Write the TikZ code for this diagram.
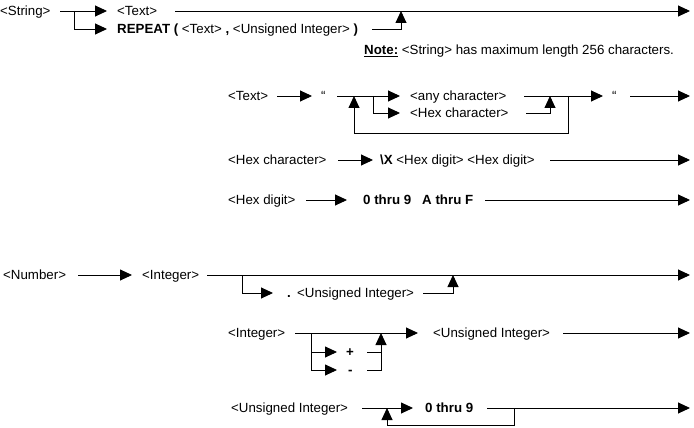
\documentclass[tikz,border=0pt]{standalone}
\usepackage{fontspec}
\setmainfont{Liberation Sans}
\usetikzlibrary{arrows.meta}
\newcommand{\synfont}{\fontsize{13.3}{15.5}\selectfont}
\tikzset{
  lbl/.style={font=\synfont, inner sep=0pt, anchor=base west},
  bld/.style={lbl, font=\synfont\bfseries},
  flow/.style={draw=black, line width=0.9pt},
  arr/.style={flow, -{Triangle[length=12pt,width=11pt]}},
}
\begin{document}
\begin{tikzpicture}[x=1pt, y=-1pt]
\useasboundingbox (0,0) rectangle (694,428);

% ---------- <String> ----------
\node[lbl] (str) at (0,15.5) {<String>};
\coordinate (s1) at (60,11);
\coordinate (s2) at (74,11);
\coordinate (s3) at (107,11);
\coordinate (s4) at (107,29);
\node[lbl] (stext) at (117,15.5) {<Text>};
\node[lbl] (srep) at (117,33.5) {\textbf{REPEAT (} <Text> \textbf{,} <Unsigned Integer> \textbf{)}};
\coordinate (s5) at (175,11);
\coordinate (s6) at (690,11);
\coordinate (s7) at (372,29);
\coordinate (s8) at (401,11);
\draw[arr] (s1) -- (s3);
\draw[arr] (s2) |- (s4);
\draw[arr] (s5) -- (s6);
\draw[arr] (s7) -| (s8);
\node[lbl] (note) at (364,54.5) {\underline{\textbf{Note:}} <String> has maximum length 256 characters.};

% ---------- <Text> ----------
\node[lbl] (txt) at (228,100.5) {<Text>};
\coordinate (t1) at (277,96);
\coordinate (t2) at (312,96);
\node[lbl] (tq1) at (321,100.5) {“};
\coordinate (t3) at (337,96);
\coordinate (t4) at (373,96);
\coordinate (t5) at (400,96);
\coordinate (t6) at (400,113);
\node[lbl] (tany) at (410,100.5) {<any character>};
\node[lbl] (thex) at (410,117.5) {<Hex character>};
\coordinate (t7) at (524,96);
\coordinate (t8) at (568,96);
\coordinate (t9) at (526,113);
\coordinate (t10) at (550,96);
\coordinate (t11) at (568,133);
\coordinate (t12) at (354,96);
\coordinate (t13) at (603,96);
\node[lbl] (tq2) at (612,100.5) {“};
\coordinate (t14) at (630,96);
\coordinate (t15) at (690,96);
\draw[arr] (t1) -- (t2);
\draw[arr] (t3) -- (t5);
\draw[arr] (t4) |- (t6);
\draw[flow] (t7) -- (t8);
\draw[arr] (t9) -| (t10);
\draw[arr] (t8) -- (t11) -| (t12);
\draw[arr] (t8) -- (t13);
\draw[arr] (t14) -- (t15);

% ---------- <Hex character> ----------
\node[lbl] (hc) at (228,164.5) {<Hex character>};
\coordinate (h1) at (338,160);
\coordinate (h2) at (373,160);
\node[lbl] (hcx) at (380,164.5) {\textbf{\textbackslash X} <Hex digit> <Hex digit>};
\coordinate (h3) at (550,160);
\coordinate (h4) at (690,160);
\draw[arr] (h1) -- (h2);
\draw[arr] (h3) -- (h4);

% ---------- <Hex digit> ----------
\node[lbl] (hd) at (228,204.5) {<Hex digit>};
\coordinate (d1) at (306,200);
\coordinate (d2) at (347,200);
\node[bld] (hdv) at (363,204.5) {0 thru 9\hspace{11pt}A thru F};
\coordinate (d3) at (485,200);
\coordinate (d4) at (690,200);
\draw[arr] (d1) -- (d2);
\draw[arr] (d3) -- (d4);

% ---------- <Number> ----------
\node[lbl] (num) at (3,279.5) {<Number>};
\coordinate (n1) at (78,275);
\coordinate (n2) at (132,275);
\node[lbl] (nint) at (142,279.5) {<Integer>};
\coordinate (n3) at (207,275);
\coordinate (n4) at (242,275);
\coordinate (n5) at (690,275);
\coordinate (n6) at (273,293);
\node[bld] (ndot) at (287,297.5) {.};
\node[lbl] (nui) at (297,297.5) {<Unsigned Integer>};
\coordinate (n7) at (423,293);
\coordinate (n8) at (453,275);
\draw[arr] (n1) -- (n2);
\draw[arr] (n3) -- (n5);
\draw[arr] (n4) |- (n6);
\draw[arr] (n7) -| (n8);

% ---------- <Integer> ----------
\node[lbl] (int) at (228,337) {<Integer>};
\coordinate (i1) at (295,333);
\coordinate (i2) at (311,333);
\coordinate (i3) at (418,333);
\coordinate (i4) at (337,352);
\coordinate (i5) at (337,370);
\node[bld] (iplus) at (346,356.5) {+};
\node[bld] (iminus) at (348,374.5) {-};
\coordinate (i6) at (367,352);
\coordinate (i7) at (367,370);
\coordinate (i8) at (381,370);
\coordinate (i9) at (381,333);
\node[lbl] (iui) at (433,337) {<Unsigned Integer>};
\coordinate (i10) at (563,333);
\coordinate (i11) at (690,333);
\draw[arr] (i1) -- (i3);
\draw[arr] (i2) |- (i4);
\draw[arr] (i2) |- (i5);
\draw[flow] (i6) -- (i6 -| i8);
\draw[arr] (i7) -- (i8) -- (i9);
\draw[arr] (i10) -- (i11);

% ---------- <Unsigned Integer> ----------
\node[lbl] (ui) at (231,412.5) {<Unsigned Integer>};
\coordinate (u1) at (362,408);
\coordinate (u2) at (413,408);
\node[bld] (udig) at (425,412.5) {0 thru 9};
\coordinate (u3) at (487,408);
\coordinate (u4) at (514,408);
\coordinate (u5) at (690,408);
\coordinate (u6) at (514,425);
\coordinate (u7) at (387,408);
\draw[arr] (u1) -- (u2);
\draw[arr] (u3) -- (u5);
\draw[arr] (u4) -- (u6) -| (u7);
\end{tikzpicture}
\end{document}
